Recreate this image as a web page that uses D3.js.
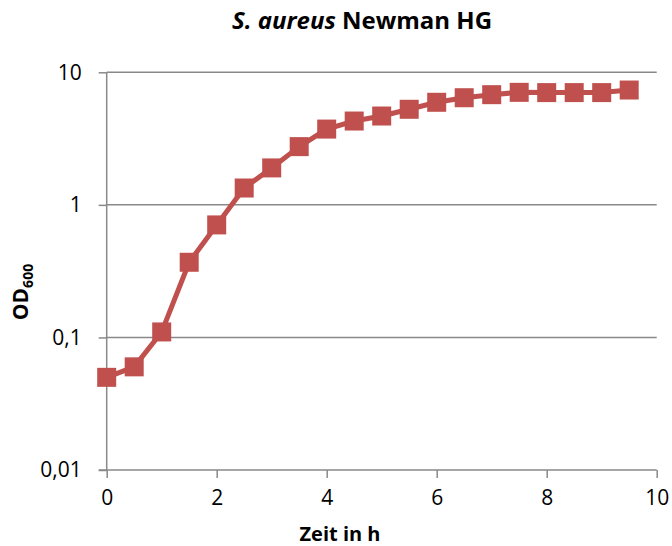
<!DOCTYPE html>
<html>
<head>
<meta charset="utf-8">
<script src="https://cdn.jsdelivr.net/npm/d3@7"></script>
<style>
  html, body { margin: 0; padding: 0; background: #fff; }
  svg { display: block; }
</style>
</head>
<body>
<script>
// Data
const timeHours = [0, 0.5, 1, 1.5, 2, 2.5, 3, 3.5, 4, 4.5, 5, 5.5, 6, 6.5, 7, 7.5, 8, 8.5, 9, 9.5];
const od600 = [0.05, 0.06, 0.11, 0.369, 0.706, 1.34, 1.90, 2.75, 3.73, 4.29, 4.68, 5.26, 5.94, 6.43, 6.78, 7.06, 7.03, 7.03, 7.03, 7.35];
const xTicks = [0, 2, 4, 6, 8, 10];
const yTicks = [0.01, 0.1, 1, 10];
const yTickLabels = ["0,01", "0,1", "1", "10"];
const titleItalic = "S. aureus";
const titleRest = " Newman HG";
const xTitle = "Zeit in h";

const W = 672, H = 546;
const plotLeft = 106.7, plotRight = 656.7, plotTop = 72.3, plotBottom = 470;
const font = "'Open Sans', 'DejaVu Sans', sans-serif";
const red = "#C0504D";
const gray = "#898989";

const svg = d3.select("body").append("svg").attr("width", W).attr("height", H);

const x = d3.scaleLinear().domain([0, 10]).range([plotLeft, plotRight]);
const y = d3.scaleLog().domain([0.01, 10]).range([plotBottom, plotTop]);

// Gridlines
svg.append("g").selectAll("line").data(yTicks.filter(d => d > 0.01)).join("line")
  .attr("x1", plotLeft).attr("x2", plotRight)
  .attr("y1", d => y(d)).attr("y2", d => y(d))
  .attr("stroke", gray).attr("stroke-width", 1.5);

// Y axis
const yAxis = d3.axisLeft(y).tickValues(yTicks)
  .tickFormat((d, i) => yTickLabels[i]).tickSize(8).tickPadding(17);
const gy = svg.append("g").attr("transform", `translate(${plotLeft},0)`).call(yAxis);
gy.select(".domain").attr("stroke", gray).attr("stroke-width", 1.5).attr("d", `M0,${plotTop}V${plotBottom}`);
gy.selectAll(".tick line").attr("stroke", gray).attr("stroke-width", 1.5);
gy.selectAll(".tick text").attr("font-family", font).attr("font-size", 21).attr("fill", "#000");

// X axis
const xAxis = d3.axisBottom(x).tickValues(xTicks).tickSize(8).tickPadding(12);
const gx = svg.append("g").attr("transform", `translate(0,${plotBottom})`).call(xAxis);
gx.select(".domain").attr("stroke", gray).attr("stroke-width", 1.5).attr("d", `M${plotLeft - 8},0H${plotRight}`);
gx.selectAll(".tick line").attr("stroke", gray).attr("stroke-width", 1.5);
gx.selectAll(".tick text").attr("font-family", font).attr("font-size", 21).attr("fill", "#000");

// Line
const line = d3.line().x((d, i) => x(timeHours[i])).y(d => y(d));
svg.append("path").datum(od600)
  .attr("d", line).attr("fill", "none").attr("stroke", red)
  .attr("stroke-width", 5).attr("stroke-linejoin", "round");

// Markers
const ms = 19;
svg.append("g").selectAll("rect").data(od600).join("rect")
  .attr("x", (d, i) => x(timeHours[i]) - ms / 2)
  .attr("y", d => y(d) - ms / 2)
  .attr("width", ms).attr("height", ms)
  .attr("fill", red);

// Title
const title = svg.append("text")
  .attr("x", 362).attr("y", 29)
  .attr("text-anchor", "middle")
  .attr("font-family", font).attr("font-size", 24).attr("font-weight", "bold").attr("fill", "#000");
title.append("tspan").attr("font-style", "italic").text(titleItalic);
title.append("tspan").text(titleRest);

// X title
svg.append("text")
  .attr("x", 340).attr("y", 541)
  .attr("text-anchor", "middle")
  .attr("font-family", font).attr("font-size", 20).attr("font-weight", "bold").attr("fill", "#000")
  .text(xTitle);

// Y title
const yt = svg.append("text")
  .attr("transform", `translate(28,292) rotate(-90)`)
  .attr("text-anchor", "middle")
  .attr("font-family", font).attr("font-size", 21).attr("font-weight", "bold").attr("fill", "#000");
yt.append("tspan").text("OD");
yt.append("tspan").attr("font-size", 14).attr("dy", 5).text("600");
</script>
</body>
</html>
